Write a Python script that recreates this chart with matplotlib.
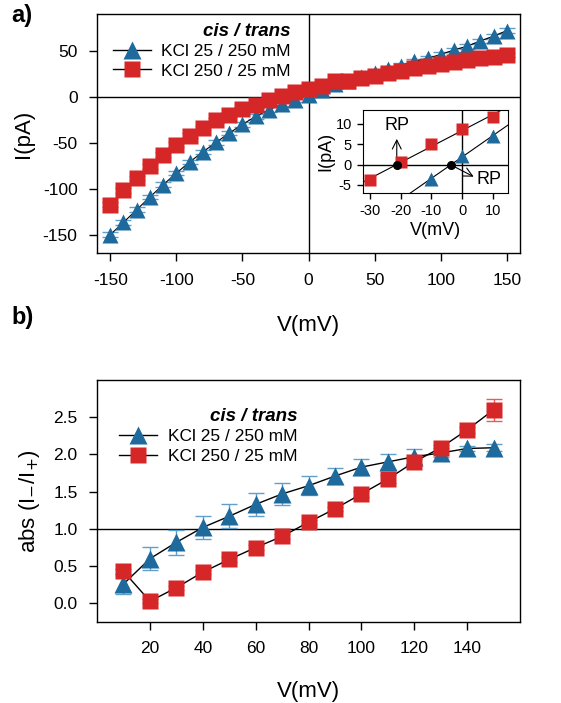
import numpy as np
import matplotlib.pyplot as plt

plt.rcParams['font.family'] = ['Liberation Sans', 'DejaVu Sans']
plt.rcParams['axes.unicode_minus'] = False

# panel a: I-V curves
V = np.arange(-150, 151, 10)
I_blue = [-150, -136.6, -122.8, -109, -95.7, -83, -71, -60, -49.6, -39.5, -30, -21.4, -14, -8, -3,
          2, 7, 13.8, 17.5, 21, 25.6, 30, 34, 38.5, 41.8, 46, 51, 55, 60.8, 66, 72]
I_red = [-117.4, -101.8, -88.4, -75.7, -63, -52, -42.4, -34, -25.7, -19.6, -13.4, -8.7, -3.8, 0.5, 5,
         8.7, 12, 16.7, 17.5, 20.7, 22.7, 26, 28.2, 31.2, 33.4, 35.4, 37.7, 39.8, 42.5, 43.7, 45.5]
err_a = 2.5

# inset
V_in_red = [-30, -20, -10, 0, 10]
I_in_red = [-3.8, 0.5, 5, 8.7, 11.7]
V_in_blue = [-10, 0, 10]
I_in_blue = [-3.5, 2, 7]

# panel b: rectification ratio
Vb = np.arange(10, 151, 10)
r_blue = [0.26, 0.6, 0.82, 1.02, 1.17, 1.33, 1.47, 1.58, 1.71, 1.83, 1.9, 1.97, 2.02, 2.08, 2.09]
e_blue = [0.13, 0.155, 0.17, 0.155, 0.16, 0.15, 0.15, 0.13, 0.11, 0.11, 0.1, 0.1, 0.06, 0.04, 0.05]
r_red = [0.43, 0.03, 0.21, 0.42, 0.59, 0.75, 0.9, 1.09, 1.27, 1.47, 1.67, 1.9, 2.09, 2.33, 2.6]
e_red = [0.03, 0.03, 0.03, 0.03, 0.03, 0.03, 0.03, 0.03, 0.03, 0.04, 0.06, 0.04, 0.04, 0.04, 0.15]

labels = ['KCl 25 / 250 mM', 'KCl 250 / 25 mM']
blue, red = '#1f6a9c', '#d62728'
blue_e, red_e = '#5f9fcc', '#ea5a5a'

fig = plt.figure(figsize=(5.61, 7.03), dpi=100)


def style(ax, size=12.5):
    ax.tick_params(direction='out', length=6, width=1, labelsize=size, pad=8)
    for s in ax.spines.values():
        s.set_linewidth(1)


def legend(ax, anchor):
    h1, = ax.plot([], [], '-^', color='black', mfc=blue, mec='none', ms=13, lw=1)
    h2, = ax.plot([], [], '-s', color='black', mfc=red, mec='none', ms=11.5, lw=1)
    leg = ax.legend([h1, h2], labels, title='cis / trans', loc='upper left', bbox_to_anchor=anchor,
                    frameon=False, fontsize=12.5, handlelength=2.2, handletextpad=0.6,
                    labelspacing=0.25)
    leg.get_title().set_fontweight('bold')
    leg.get_title().set_fontstyle('italic')
    leg.get_title().set_fontsize(13.5)
    leg._legend_box.align = 'right'
    return leg


# ---- panel a
ax = fig.add_axes([0.173, 0.640, 0.754, 0.340])
ax.axhline(0, color='black', lw=1)
ax.axvline(0, color='black', lw=1)
ax.errorbar(V, I_blue, yerr=err_a, fmt='none', ecolor=blue_e, capsize=6, lw=1)
ax.errorbar(V, I_red, yerr=err_a, fmt='none', ecolor=red_e, capsize=6, lw=1)
ax.plot(V, I_blue, '-', color='black', lw=0.8, zorder=3)
ax.plot(V, I_red, '-', color='black', lw=0.8, zorder=3)
ax.plot(V, I_blue, '^', color=blue, ms=12, mec='none', zorder=4)
ax.plot(V, I_red, 's', color=red, ms=11, mec='none', zorder=5)
ax.set_xlim(-160, 160)
ax.set_ylim(-170, 90)
ax.set_xticks([-150, -100, -50, 0, 50, 100, 150])
ax.set_yticks([-150, -100, -50, 0, 50])
ax.set_xlabel('V(mV)', fontsize=16, labelpad=20)
ax.set_ylabel('I(pA)', fontsize=16, labelpad=6)
style(ax)
legend(ax, (0.0, 1.03))
fig.text(0.02, 0.995, 'a)', fontsize=17, fontweight='bold', va='top')

# ---- inset
ai = fig.add_axes([0.647, 0.7255, 0.258, 0.118])
ai.axhline(0, color='black', lw=1)
ai.axvline(0, color='black', lw=1)
xx = np.array([-40, 20])
pr = np.polyfit(V_in_red, I_in_red, 1)
pb = np.polyfit(V_in_blue, I_in_blue, 1)
ai.plot(xx, np.polyval(pr, xx), color='black', lw=0.8)
ai.plot(xx, np.polyval(pb, xx), color='black', lw=0.8)
ai.plot(V_in_blue, I_in_blue, '^', color=blue, ms=10, mec='none', zorder=4)
ai.plot(V_in_red, I_in_red, 's', color=red, ms=9, mec='none', zorder=4)
rp_r = -pr[1] / pr[0]
rp_b = -pb[1] / pb[0]
ai.plot([rp_r, rp_b], [0, 0], 'o', color='black', ms=5.5, zorder=6)
ai.annotate('', xy=(rp_r, 6.3), xytext=(rp_r, 0.8),
            arrowprops=dict(arrowstyle='->', lw=0.8, shrinkA=0, shrinkB=0, mutation_scale=16))
ai.text(rp_r, 9.6, 'RP', ha='center', va='center', fontsize=13)
ai.annotate('', xy=(3.8, -3.0), xytext=(rp_b + 0.4, -0.3),
            arrowprops=dict(arrowstyle='->', lw=0.8, shrinkA=0, shrinkB=0, mutation_scale=16))
ai.text(8.8, -3.7, 'RP', ha='center', va='center', fontsize=13)
ai.set_xlim(-32.3, 14.9)
ai.set_ylim(-7, 13.4)
ai.set_xticks([-30, -20, -10, 0, 10])
ai.set_yticks([-5, 0, 5, 10])
ai.tick_params(direction='out', length=4, width=1, labelsize=10.5, pad=4)
ai.set_xlabel('V(mV)', fontsize=13, labelpad=3)
ai.set_ylabel('I(pA)', fontsize=13, labelpad=1)

# ---- panel b
bx = fig.add_axes([0.173, 0.1152, 0.754, 0.3443])
bx.axhline(1, color='black', lw=1)
bx.errorbar(Vb, r_blue, yerr=e_blue, fmt='none', ecolor=blue_e, capsize=6, lw=1)
bx.errorbar(Vb, r_red, yerr=e_red, fmt='none', ecolor=red_e, capsize=6, lw=1)
bx.plot(Vb, r_blue, '-', color='black', lw=1, zorder=3)
bx.plot(Vb, r_red, '-', color='black', lw=1, zorder=3)
bx.plot(Vb, r_blue, '^', color=blue, ms=13, mec='none', zorder=4)
bx.plot(Vb, r_red, 's', color=red, ms=11.5, mec='none', zorder=5)
bx.set_xlim(0, 160)
bx.set_ylim(-0.25, 3.0)
bx.set_xticks([20, 40, 60, 80, 100, 120, 140])
bx.set_yticks([0, 0.5, 1, 1.5, 2, 2.5])
bx.set_yticklabels(['0.0', '0.5', '1.0', '1.5', '2.0', '2.5'])
bx.set_xlabel('V(mV)', fontsize=16, labelpad=18)
bx.set_ylabel('abs (I$_{-}$/I$_{+}$)', fontsize=16, labelpad=8)
style(bx)
legend(bx, (0.015, 0.95))
fig.text(0.02, 0.565, 'b)', fontsize=17, fontweight='bold', va='top')

fig.savefig('out.png', dpi=100)
